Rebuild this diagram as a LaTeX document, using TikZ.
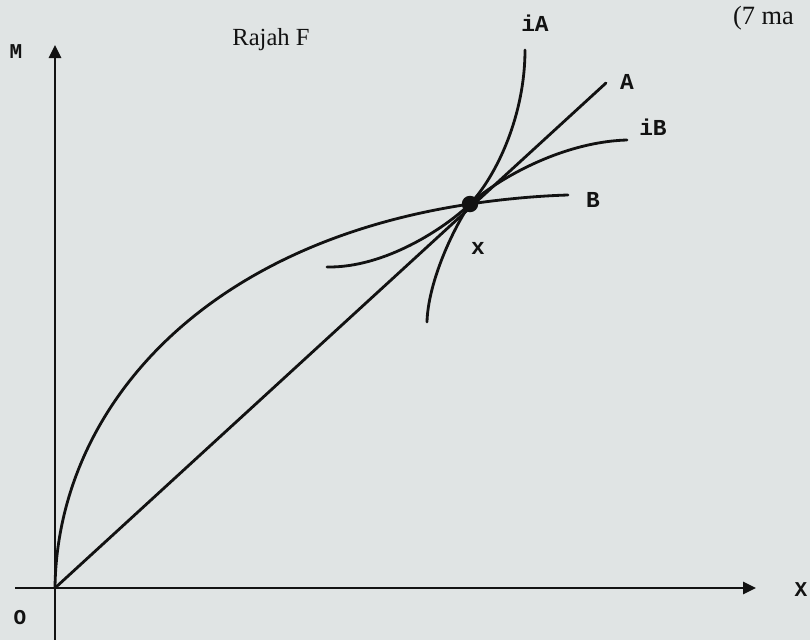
\documentclass[tikz,border=0pt]{standalone}
\usepackage{fontspec}
\setmainfont{Liberation Serif}
\setmonofont{Liberation Mono}
\usepackage{xcolor}
\usetikzlibrary{positioning,arrows.meta}
\definecolor{paper}{RGB}{224,228,228}
\definecolor{ink}{RGB}{18,18,18}
\tikzset{
  axis/.style={line width=1.5pt, ink},
  axtip/.style={-{Triangle[length=2.6mm, width=2.4mm]}},
  curve/.style={line width=1.6pt, ink, line cap=round},
  clbl/.style={font=\fontsize{13}{15}\selectfont\ttfamily\bfseries, text=ink, inner sep=1pt},
  albl/.style={font=\fontsize{12}{14}\selectfont\ttfamily\bfseries, text=ink, inner sep=1pt},
  ttl/.style={font=\fontsize{14}{16}\selectfont, text=ink, inner sep=1pt},
  eqdot/.style={circle, fill=ink, minimum size=3.3mm, inner sep=0pt}
}

\begin{document}
\begin{tikzpicture}[x=0.2mm, y=-0.2mm]
    \fill[paper] (0,0) rectangle (810,640);
    \useasboundingbox (0,0) rectangle (810,640);
    \coordinate (o) at (55,588);
    \coordinate (ybot) at (55,640);
    \coordinate (ytop) at (55,45);
    \coordinate (xleft) at (15,588);
    \coordinate (xright) at (756,588);
    \coordinate (aend) at (606,83);
    \coordinate (x0) at (470,204);
    \coordinate (bend) at (568,195);
    \coordinate (iab) at (427,322);
    \coordinate (iat) at (525,50);
    \coordinate (ibl) at (327,267);
    \coordinate (ibr) at (627,140);
    \draw[axis, axtip] (ybot) -- (ytop);
    \draw[axis, axtip] (xleft) -- (xright);
    \draw[curve] (o) -- (aend);
    \draw[curve] (o) .. controls (57,415) and (195,245) .. (x0)
      .. controls (500,199.5) and (535,196) .. (bend);
    \draw[curve] (iab) .. controls (428,285) and (450,234) .. (x0)
      .. controls (497,175) and (525,115) .. (iat);
    \draw[curve] (ibl) .. controls (385,268) and (445,228) .. (x0)
      .. controls (495,181) and (560,142) .. (ibr);
    \node[eqdot] (eq) at (x0) {};
    \node[albl] (lM) at (16,52) {M};
    \node[albl] (lO) at (20,618) {O};
    \node[albl] (lX) at (801,590) {X};
    \node[ttl] (title) at (271,40) {Rajah F};
    \node[ttl, font=\fontsize{15}{17}\selectfont, anchor=base west] (marks) at (731,24) {(7 ma};
    \node[clbl] (liA) at (535,23) {iA};
    \node[clbl] (lA) at (627,82) {A};
    \node[clbl] (liB) at (653,127) {iB};
    \node[clbl] (lB) at (593,200) {B};
    \node[clbl] (lx) at (478,248) {x};
  \end{tikzpicture}
\end{document}
